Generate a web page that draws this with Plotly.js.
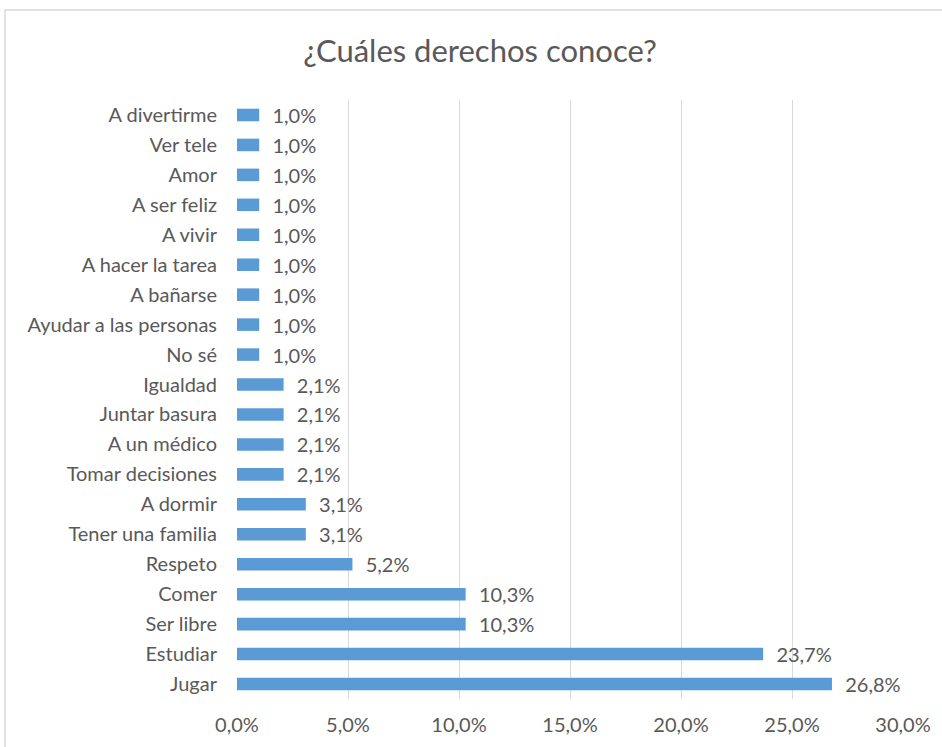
<!DOCTYPE html>
<html>
<head>
<meta charset="utf-8">
<script src="https://cdn.plot.ly/plotly-3.0.1.min.js"></script>
<style>
html,body{margin:0;padding:0;background:#fff;}
#chart{width:942px;height:747px;}
</style>
</head>
<body>
<div id="chart"></div>
<script>
const categories = [
  "A divertirme","Ver tele","Amor","A ser feliz","A vivir","A hacer la tarea",
  "A bañarse","Ayudar a las personas","No sé","Igualdad","Juntar basura",
  "A un médico","Tomar decisiones","A dormir","Tener una familia","Respeto",
  "Comer","Ser libre","Estudiar","Jugar"
];
const values = [1.0,1.0,1.0,1.0,1.0,1.0,1.0,1.0,1.0,2.1,2.1,2.1,2.1,3.1,3.1,5.2,10.3,10.3,23.7,26.8];
const tickVals = [0,5,10,15,20,25,30];
const tickText = ["0,0%","5,0%","10,0%","15,0%","20,0%","25,0%","30,0%"];
const chartTitle = "¿Cuáles derechos conoce?";

const fontFam = "Lato, 'Open Sans', sans-serif";
const gray = "#595959";

const trace = {
  type: "bar",
  orientation: "h",
  x: values,
  y: categories,
  marker: {color: "#5B9BD5"},
  width: 0.42,
  texttemplate: "\u00a0\u00a0%{x:.1f}%",
  textposition: "outside",
  constraintext: "none",
  cliponaxis: false,
  textfont: {family: fontFam, size: 20, color: gray},
  hoverinfo: "skip"
};

const layout = {
  width: 942, height: 747,
  margin: {l: 237, r: 39, t: 100, b: 48},
  paper_bgcolor: "#fff", plot_bgcolor: "#fff",
  separators: ",.",
  showlegend: false,
  title: {
    text: chartTitle,
    font: {family: fontFam, size: 31, color: gray, weight: 400},
    x: 480/942, xref: "container", xanchor: "center",
    y: 1 - 51/747, yref: "container", yanchor: "middle"
  },
  xaxis: {
    range: [0, 30],
    tickvals: tickVals,
    ticktext: tickText,
    showgrid: true, gridcolor: "#D9D9D9", gridwidth: 1,
    zeroline: false, showline: false,
    ticks: "", ticklabelstandoff: 12,
    tickfont: {family: fontFam, size: 20, color: gray},
    fixedrange: true
  },
  yaxis: {
    autorange: "reversed",
    type: "category",
    showgrid: false, zeroline: false, showline: false,
    ticks: "", ticklabelstandoff: 19,
    tickfont: {family: fontFam, size: 20, color: gray},
    fixedrange: true
  },
  shapes: [{
    type: "rect", xref: "paper", yref: "paper",
    x0: (5-237)/666, x1: 1.2, y0: -0.2, y1: 1 + (100-10)/599,
    line: {color: "#D9D9D9", width: 1.5}, fillcolor: "rgba(0,0,0,0)", layer: "below"
  }]
};

Plotly.newPlot("chart", [trace], layout, {displayModeBar: false, staticPlot: true});
</script>
</body>
</html>
